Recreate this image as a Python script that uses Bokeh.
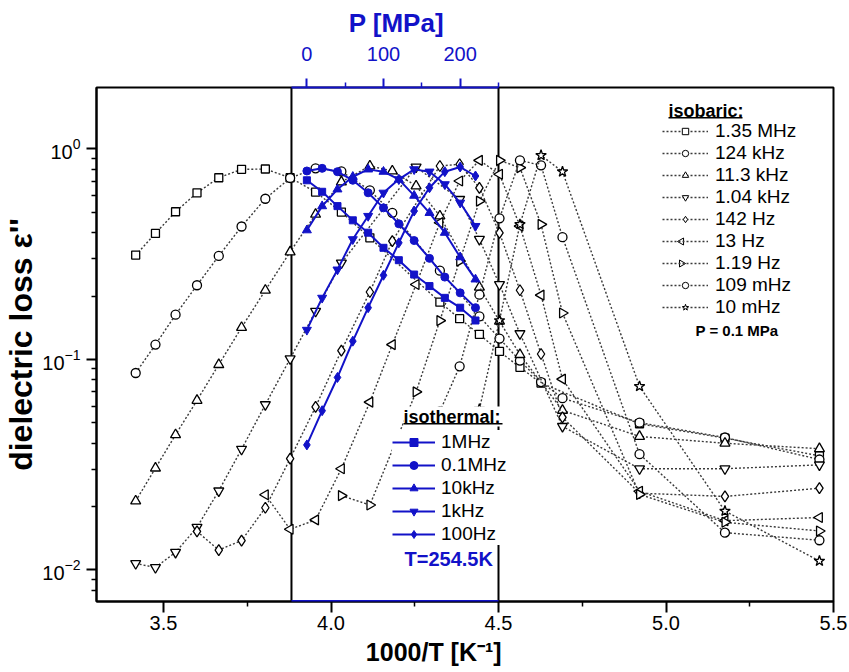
import numpy as np
from bokeh.plotting import figure
from bokeh.models import (Range1d, LinearAxis, FixedTicker, Span, Legend, LegendItem,
                          Label, BoxAnnotation, PrintfTickFormatter, ColumnDataSource)
from bokeh.embed import file_html
from bokeh.resources import INLINE

# ---------------- data: isobaric (P = 0.1 MPa), x = 1000/T ----------------
x_1_35MHz = [3.417, 3.476, 3.536, 3.600, 3.665, 3.733, 3.804, 3.878, 3.954, 4.031, 4.116,
             4.325, 4.384, 4.443, 4.503, 4.564, 4.627, 4.921, 5.176, 5.458]
y_1_35MHz = [0.313, 0.397, 0.503, 0.619, 0.730, 0.800, 0.803, 0.730, 0.624, 0.501, 0.378,
             0.187, 0.156, 0.1315, 0.109, 0.0916, 0.0771, 0.0494, 0.0422, 0.0348]

x_124kHz = [3.417, 3.476, 3.536, 3.600, 3.665, 3.733, 3.804, 3.878, 3.954, 4.031, 4.116,
            4.183, 4.325, 4.443, 4.503, 4.564, 4.627, 4.691, 4.921, 5.176, 5.458]
y_124kHz = [0.0861, 0.1175, 0.163, 0.225, 0.310, 0.428, 0.580, 0.728, 0.809, 0.782, 0.636,
            0.497, 0.264, 0.160, 0.1255, 0.0986, 0.078, 0.0654, 0.050, 0.0425, 0.0334]

x_11_3kHz = [3.417, 3.476, 3.536, 3.600, 3.665, 3.733, 3.804, 3.878, 3.954, 4.031, 4.116,
             4.183, 4.254, 4.325, 4.443, 4.503, 4.564, 4.691, 4.921, 5.176, 5.458]
y_11_3kHz = [0.0212, 0.0304, 0.0438, 0.0638, 0.0944, 0.1416, 0.213, 0.324, 0.489, 0.697, 0.830,
             0.786, 0.667, 0.480, 0.220, 0.1517, 0.1053, 0.0572, 0.0430, 0.0399, 0.0376]

x_1_04kHz = [3.417, 3.476, 3.536, 3.600, 3.665, 3.733, 3.804, 3.878, 3.954, 4.031, 4.254,
             4.384, 4.443, 4.503, 4.564, 4.691, 4.921, 5.176, 5.458]
y_1_04kHz = [0.0107, 0.01025, 0.0121, 0.0159, 0.0237, 0.0374, 0.0609, 0.1007, 0.1693, 0.287, 0.821,
             0.576, 0.372, 0.227, 0.1325, 0.0480, 0.0302, 0.0302, 0.0315]

x_142Hz = [3.600, 3.665, 3.733, 3.804, 3.878, 3.954, 4.031, 4.116, 4.183, 4.325, 4.384,
           4.443, 4.503, 4.564, 4.627, 4.691, 4.921, 5.176, 5.458]
y_142Hz = [0.0152, 0.0124, 0.01375, 0.0197, 0.0337, 0.0594, 0.110, 0.209, 0.365, 0.830, 0.846,
           0.654, 0.399, 0.213, 0.106, 0.0530, 0.0231, 0.0223, 0.0244]

x_13Hz = [3.804, 3.878, 3.954, 4.031, 4.116, 4.183, 4.254, 4.325, 4.384, 4.443, 4.503,
          4.564, 4.627, 4.691, 4.921, 5.176, 5.458]
y_13Hz = [0.0227, 0.01556, 0.01725, 0.0302, 0.0626, 0.1175, 0.227, 0.446, 0.704, 0.883, 0.758,
          0.430, 0.202, 0.0805, 0.0236, 0.0171, 0.0177]

x_1_19Hz = [4.031, 4.116, 4.254, 4.325, 4.384, 4.443, 4.503, 4.564, 4.627, 4.691, 4.921, 5.176, 5.458]
y_1_19Hz = [0.0225, 0.0203, 0.070, 0.1528, 0.293, 0.565, 0.883, 0.815, 0.438, 0.166, 0.0228, 0.0168, 0.01528]

x_109mHz = [4.325, 4.384, 4.443, 4.503, 4.564, 4.627, 4.691, 4.921, 5.176, 5.458]
y_109mHz = [0.0565, 0.0926, 0.203, 0.468, 0.883, 0.836, 0.381, 0.0354, 0.0150, 0.0138]

x_10mHz = [4.443, 4.503, 4.564, 4.627, 4.691, 4.921, 5.176, 5.458]
y_10mHz = [0.058, 0.153, 0.438, 0.933, 0.780, 0.0744, 0.0190, 0.0110]

# ---------------- data: isothermal (T = 254.5 K), x = P [MPa] ----------------
P_iso = [0.1, 20, 40, 60, 80, 100, 120, 140, 160, 180, 200, 220]
y_1MHz = [0.710, 0.626, 0.535, 0.458, 0.400, 0.339, 0.296, 0.253, 0.223, 0.196, 0.176, 0.153]
y_01MHz = [0.786, 0.809, 0.780, 0.710, 0.619, 0.525, 0.441, 0.367, 0.302, 0.246, 0.207, 0.176]
y_10kHz = [0.411, 0.535, 0.643, 0.738, 0.800, 0.780, 0.717, 0.600, 0.497, 0.400, 0.306, 0.240]
y_1kHz = [0.138, 0.196, 0.267, 0.372, 0.480, 0.619, 0.717, 0.800, 0.780, 0.679, 0.555, 0.430]
y_100Hz = [0.0392, 0.057, 0.082, 0.122, 0.176, 0.251, 0.358, 0.507, 0.654, 0.780, 0.821, 0.744]

x_ticks = [3.5, 4.0, 4.5, 5.0, 5.5]
P_ticks = [0, 100, 200]

# ---------------- layout constants ----------------
FONT = "Liberation Sans"
BLUE = "#1212c8"
NAN = [float("nan")]
NBSP = "\u00a0"
W, H = 849, 672
BL, BR, BT, BB = 91, 16, 87, 71           # borders around the frame
FW, FH = W - BL - BR, H - BT - BB         # frame size in px
XMIN, XMAX = 3.30, 5.50
YMIN, YMAX = 0.00706, 1.96
X_BOX = (3.882, 4.50)          # region of the pressure axis on the 1000/T axis
P_BOX = (-20.0, 250.0)
slope = (P_BOX[1] - P_BOX[0]) / (X_BOX[1] - X_BOX[0])
P_LEFT = P_BOX[0] + (XMIN - X_BOX[0]) * slope
P_RIGHT = P_BOX[0] + (XMAX - X_BOX[0]) * slope


def screen_to_data(sx, sy):
    """frame-relative screen position (from left / bottom) -> data coordinates"""
    xd = XMIN + sx / FW * (XMAX - XMIN)
    ly = np.log10(YMIN) + sy / FH * (np.log10(YMAX) - np.log10(YMIN))
    return xd, 10 ** ly


p = figure(width=W, height=H, output_backend="svg", toolbar_location=None,
           x_range=Range1d(XMIN, XMAX), y_range=Range1d(YMIN, YMAX), y_axis_type="log",
           min_border_left=BL, min_border_right=BR, min_border_top=BT, min_border_bottom=BB)
p.extra_x_ranges = {"P": Range1d(P_LEFT, P_RIGHT)}
p.grid.visible = False
p.outline_line_color = "black"
p.outline_line_width = 2
p.background_fill_color = "white"

# bottom axis (title shifted left of centre as in the original, via trailing no-break spaces)
xa = p.xaxis[0]
xa.ticker = FixedTicker(ticks=x_ticks, minor_ticks=[3.75, 4.25, 4.75, 5.25])
xa.formatter = PrintfTickFormatter(format="%.1f")
xa.axis_label = "1000/T [K\u207b\u00b9]" + NBSP * 9
# left axis
ya = p.yaxis[0]
ya.ticker = FixedTicker(ticks=[0.01, 0.1, 1.0],
                        minor_ticks=[k * 10.0 ** e for e in (-3, -2, -1, 0) for k in range(2, 10)])
ya.axis_label = "dielectric loss \u03b5''"

for ax in (xa, ya):
    ax.axis_line_color = "black"
    ax.axis_line_width = 2
    ax.major_tick_line_width = 2
    ax.minor_tick_line_width = 1.5
    ax.major_tick_in = 0
    ax.major_tick_out = 10
    ax.minor_tick_in = 0
    ax.minor_tick_out = 5
    ax.major_label_text_font = FONT
    ax.major_label_text_font_size = "20px"
    ax.major_label_text_color = "black"
    ax.axis_label_text_font = FONT
    ax.axis_label_text_font_style = "bold"
    ax.axis_label_text_color = "black"
xa.major_tick_out = 11
xa.axis_label_text_font_size = "25px"
ya.axis_label_text_font_size = "32px"
xa.major_label_standoff = 3
xa.axis_label_standoff = 5
ya.major_label_standoff = 6
ya.axis_label_standoff = 0

# top pressure axis (title centred over the pressure region)
pa = LinearAxis(x_range_name="P", bounds=P_BOX,
                ticker=FixedTicker(ticks=P_ticks, minor_ticks=[50, 150, 250]),
                axis_label="P [MPa]" + NBSP * 19)
pa.axis_line_color = BLUE
pa.axis_line_width = 2
pa.major_tick_line_color = BLUE
pa.minor_tick_line_color = BLUE
pa.major_tick_line_width = 2
pa.minor_tick_line_width = 1.5
pa.major_tick_in = 0
pa.major_tick_out = 9
pa.minor_tick_in = 0
pa.minor_tick_out = 5
pa.major_label_text_font = FONT
pa.major_label_text_font_size = "20px"
pa.major_label_text_color = BLUE
pa.major_label_standoff = 18
pa.axis_label_text_font = FONT
pa.axis_label_text_font_size = "26px"
pa.axis_label_text_font_style = "bold"
pa.axis_label_text_color = BLUE
pa.axis_label_standoff = 6
p.add_layout(pa, "above")

# vertical borders of the pressure region
for xv in X_BOX:
    p.add_layout(Span(location=xv, dimension="height", line_color="black",
                      line_width=2, level="underlay"))

# ---------------- isobaric series ----------------
iso_specs = [
    ("1.35 MHz", x_1_35MHz, y_1_35MHz, "square", 0.0, 8),
    ("124 kHz", x_124kHz, y_124kHz, "circle", 0.0, 9),
    ("11.3 kHz", x_11_3kHz, y_11_3kHz, "triangle", 0.0, 10),
    ("1.04 kHz", x_1_04kHz, y_1_04kHz, "inverted_triangle", 0.0, 10),
    ("142 Hz", x_142Hz, y_142Hz, "diamond", 0.0, 11),
    ("13 Hz", x_13Hz, y_13Hz, "triangle", np.pi / 2, 10),
    ("1.19 Hz", x_1_19Hz, y_1_19Hz, "triangle", -np.pi / 2, 10),
    ("109 mHz", x_109mHz, y_109mHz, "circle", 0.0, 9),
    ("10 mHz", x_10mHz, y_10mHz, "star", 0.0, 11),
]

# isobaric legend geometry (frame-relative px)
LB_X, LB_Y, LB_GW, LB_ROW = 566, 283, 46, 22
rotated_keys = []
bar_items = []
for i, (label, xs, ys, mk, ang, sz) in enumerate(iso_specs):
    src = ColumnDataSource(dict(x=xs, y=ys))
    ln = p.line("x", "y", source=src, line_color="#3a3a3a", line_width=1.4, line_dash="2 2")
    p.scatter("x", "y", source=src, marker=mk, angle=ang, size=sz, fill_color="white",
              line_color="black", line_width=1.3)
    rends = [ln]
    if ang == 0.0:
        rends.append(p.scatter(x=NAN, y=NAN, marker=mk, fill_color="white",
                               line_color="black", line_width=1.0))
    else:
        # legend keys cannot be rotated: draw the sideways triangle on top of the key
        kx, ky = screen_to_data(LB_X + LB_GW / 2,
                                LB_Y + len(iso_specs) * LB_ROW - (i + 0.5) * LB_ROW)
        rotated_keys.append((kx, ky, ang))
    bar_items.append(LegendItem(label=label, renderers=rends))

key_src = ColumnDataSource(dict(x=[k[0] for k in rotated_keys], y=[k[1] for k in rotated_keys],
                                a=[k[2] for k in rotated_keys]))
p.scatter("x", "y", source=key_src, marker="triangle", angle="a", size=7,
          fill_color="white", line_color="black", line_width=1.0, level="overlay")

# ---------------- isothermal series ----------------
therm_specs = [
    ("1MHz", y_1MHz, "square", 0.0, 7),
    ("0.1MHz", y_01MHz, "circle", 0.0, 8),
    ("10kHz", y_10kHz, "triangle", 0.0, 9),
    ("1kHz", y_1kHz, "inverted_triangle", 0.0, 9),
    ("100Hz", y_100Hz, "diamond", 0.0, 10),
]
therm_items = []
for label, ys, mk, ang, sz in therm_specs:
    src = ColumnDataSource(dict(x=P_iso, y=ys))
    ln = p.line("x", "y", source=src, x_range_name="P", line_color=BLUE, line_width=2)
    p.scatter("x", "y", source=src, x_range_name="P", marker=mk, angle=ang, size=sz,
              fill_color=BLUE, line_color=BLUE)
    dummy = p.scatter(x=NAN, y=NAN, x_range_name="P", marker=mk, fill_color=BLUE, line_color=BLUE)
    therm_items.append(LegendItem(label=label, renderers=[ln, dummy]))

# blue segment of the bottom frame under the pressure region
p.add_layout(BoxAnnotation(left=X_BOX[0], right=X_BOX[1], bottom=-1.2, top=1.5,
                           bottom_units="screen", top_units="screen",
                           fill_color=BLUE, fill_alpha=1.0, line_color=None))

# ---------------- legends ----------------
leg_bar = Legend(items=bar_items, location=(LB_X, LB_Y), orientation="vertical",
                 glyph_width=LB_GW, glyph_height=16, label_height=LB_ROW, spacing=0, padding=0,
                 margin=0, label_standoff=7, label_text_font=FONT, label_text_font_size="19px",
                 label_text_color="black", background_fill_alpha=0.0, border_line_color=None)
p.add_layout(leg_bar)

leg_therm = Legend(items=therm_items, location=(296, 56), orientation="vertical",
                   glyph_width=43, glyph_height=20, label_height=23, spacing=0, padding=10,
                   margin=0, label_standoff=6, label_text_font=FONT, label_text_font_size="19px",
                   label_text_color="black", background_fill_color="white",
                   background_fill_alpha=1.0, border_line_color=None)
p.add_layout(leg_therm)

p.add_layout(Label(x=572, y=491, x_units="screen", y_units="screen", text="isobaric:",
                   text_font=FONT, text_font_size="18px", text_font_style="bold",
                   text_baseline="middle", text_color="black", level="overlay"))
p.add_layout(BoxAnnotation(left=572, right=646, bottom=482.9, top=484.5,
                           left_units="screen", right_units="screen",
                           bottom_units="screen", top_units="screen",
                           fill_color="black", fill_alpha=1.0, line_color=None, level="overlay"))
p.add_layout(Label(x=599, y=271, x_units="screen", y_units="screen", text="P = 0.1 MPa",
                   text_font=FONT, text_font_size="15px", text_font_style="bold",
                   text_baseline="middle", text_color="black", level="overlay"))

p.add_layout(Label(x=307, y=185, x_units="screen", y_units="screen", text="isothermal:",
                   text_font=FONT, text_font_size="18px", text_font_style="bold",
                   text_baseline="middle", text_color="black",
                   background_fill_color="white", level="overlay"))
p.add_layout(BoxAnnotation(left=307, right=406, bottom=177.0, top=178.6,
                           left_units="screen", right_units="screen",
                           bottom_units="screen", top_units="screen",
                           fill_color="black", fill_alpha=1.0, line_color=None, level="overlay"))
p.add_layout(Label(x=308, y=43, x_units="screen", y_units="screen", text="T=254.5K",
                   text_font=FONT, text_font_size="20px", text_font_style="bold",
                   text_baseline="middle", text_color=BLUE,
                   background_fill_color="white", level="overlay"))

open("out.html", "w").write(file_html(p, INLINE))
